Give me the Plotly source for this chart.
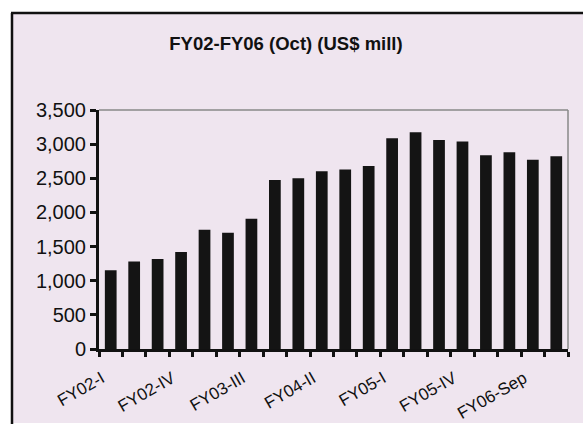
import plotly.graph_objects as go

categories = ["FY02-I", "FY02-II", "FY02-III", "FY02-IV",
              "FY03-I", "FY03-II", "FY03-III", "FY03-IV",
              "FY04-I", "FY04-II", "FY04-III", "FY04-IV",
              "FY05-I", "FY05-II", "FY05-III", "FY05-IV",
              "FY06-Jul", "FY06-Aug", "FY06-Sep", "FY06-Oct"]
values = [1155, 1282, 1317, 1421, 1746, 1701, 1908, 2474, 2499, 2602,
          2627, 2681, 3085, 3173, 3060, 3040, 2839, 2883, 2770, 2824]
shown_labels = ["FY02-I", "FY02-IV", "FY03-III", "FY04-II", "FY05-I", "FY05-IV", "FY06-Sep"]
title_text = "FY02-FY06 (Oct) (US$ mill)"
y_ticks = [0, 500, 1000, 1500, 2000, 2500, 3000, 3500]

W, H = 583, 427
L, R, T, B = 99, 15, 110, 78
pw, ph = W - L - R, H - T - B

def px(x):
    return (x - L) / pw

def py(y):
    return (H - B - y) / ph

FONT = "Arial, Liberation Sans, sans-serif"
PINK = "#efe5ef"

fig = go.Figure(go.Bar(x=categories, y=values, marker_color="#141414",
                       marker_line_width=0, width=0.5))

ticktext = [c if c in shown_labels else "" for c in categories]

fig.update_layout(
    width=W, height=H,
    margin=dict(l=L, r=R, t=T, b=B, autoexpand=False),
    paper_bgcolor="white",
    plot_bgcolor="white",
    showlegend=False,
    font=dict(family=FONT, color="#111"),
    title=dict(text="<b>" + title_text + "</b>", x=px(286), xref="paper", xanchor="center",
               y=1 - 44 / H, yanchor="middle", font=dict(size=18.5, family=FONT, color="#111")),
    xaxis=dict(type="category", tickmode="array", tickvals=categories, ticktext=ticktext,
               tickangle=-30, tickson="boundaries", ticks="outside", ticklen=5, tickwidth=3,
               tickcolor="#111", showline=True, linecolor="#111", linewidth=3,
               showgrid=False, tickfont=dict(size=17, family=FONT, color="#111"),
               ticklabelstandoff=10, ticklabelshift=-9, automargin=False,
               range=[-0.5, len(categories) - 0.5]),
    yaxis=dict(range=[0, 3500], tickvals=y_ticks, tickformat=",", ticks="outside",
               ticklen=6, tickwidth=3, tickcolor="#111", showline=True, linecolor="#111",
               linewidth=3, showgrid=False, zeroline=False, automargin=False,
               tickfont=dict(size=20, family=FONT, color="#111")),
    shapes=[
        dict(type="rect", xref="paper", yref="paper", x0=px(12), x1=px(590), y0=py(423), y1=py(13),
             fillcolor=PINK, line_width=0, layer="below"),
        dict(type="line", xref="paper", yref="paper", x0=px(12), x1=px(12), y0=py(424), y1=py(13),
             line=dict(color="#111", width=2.5)),
        dict(type="line", xref="paper", yref="paper", x0=px(11), x1=px(590), y0=py(13), y1=py(13),
             line=dict(color="#111", width=2.5)),
        dict(type="line", xref="paper", yref="paper", x0=0, x1=1, y0=1, y1=1,
             line=dict(color="#888", width=1.5)),
        dict(type="line", xref="paper", yref="paper", x0=1, x1=1, y0=0, y1=1,
             line=dict(color="#888", width=1.5)),
    ],
)

fig.write_html("out.html", config={"displayModeBar": False},
               post_script="document.body.style.margin='0';")
